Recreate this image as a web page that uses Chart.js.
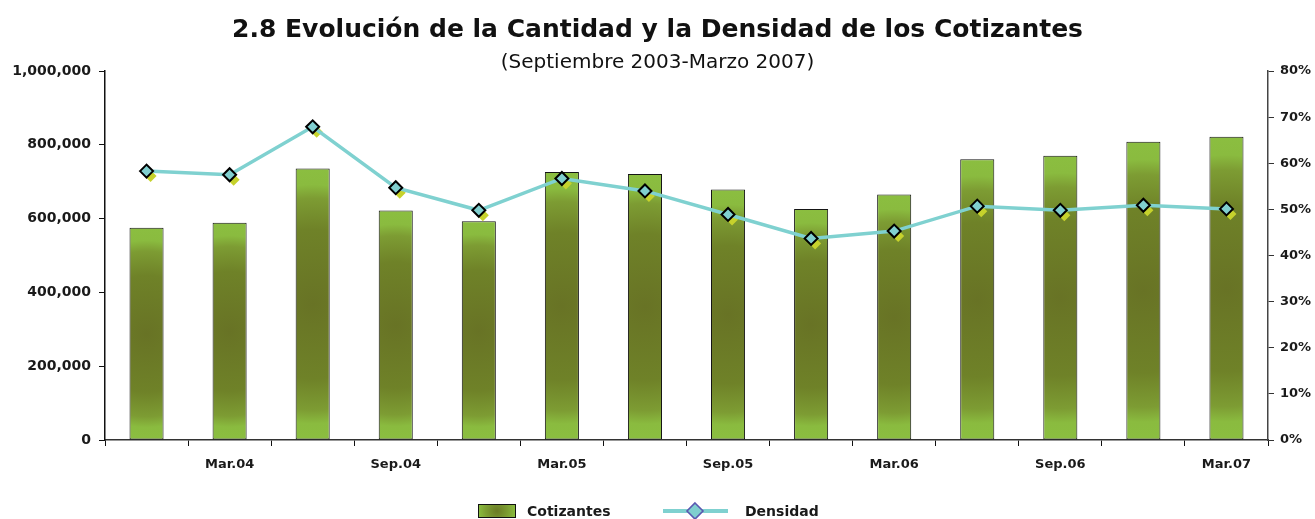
<!DOCTYPE html>
<html>
<head>
<meta charset="utf-8">
<script src="https://cdn.jsdelivr.net/npm/chart.js@4.4.0/dist/chart.umd.min.js"></script>
<style>
  html, body { margin: 0; padding: 0; background: #fff; }
  #wrap { position: relative; width: 1315px; height: 519px; overflow: hidden; }
  #c { position: absolute; left: 0; top: 0; }
  .lg { position: absolute; font-family: "DejaVu Sans", sans-serif; font-weight: bold; font-size: 14px; line-height: 14px; color: #1a1a1a; white-space: nowrap; }
  .sym { position: absolute; }
</style>
</head>
<body>
<div id="wrap">
  <canvas id="c" width="1315" height="519"></canvas>
  <canvas id="symC" class="sym" width="40" height="16" style="left:477px;top:503px"></canvas>
  <span class="lg" style="left:527px;top:504px">Cotizantes</span>
  <canvas id="symD" class="sym" width="70" height="20" style="left:660px;top:501px"></canvas>
  <span class="lg" style="left:745px;top:504px">Densidad</span>
</div>
<script>
// ---- data ----
const categories = ['Dic.03','Mar.04','Jun.04','Sep.04','Dic.04','Mar.05','Jun.05','Sep.05','Dic.05','Mar.06','Jun.06','Sep.06','Dic.06','Mar.07'];
const cotizantes = [575000, 589000, 736000, 622000, 593000, 726000, 721000, 679000, 626000, 665000, 761000, 770000, 808000, 822000];
const densidad = [58.3, 57.5, 67.9, 54.7, 49.8, 56.7, 54.0, 48.9, 43.7, 45.3, 50.7, 49.8, 50.9, 50.1];
const titleText = '2.8 Evolución de la Cantidad y la Densidad de los Cotizantes';
const subtitleText = '(Septiembre 2003-Marzo 2007)';
const seriesNames = ['Cotizantes', 'Densidad'];

const FONT = '"DejaVu Sans", sans-serif';

function barGradient(ctx2d, x, top, base) {
  const cy = (top + base) / 2;
  const r = Math.max((base - top) / 2, 1);
  const g = ctx2d.createRadialGradient(x, cy, 0, x, cy, r);
  g.addColorStop(0, '#687325');
  g.addColorStop(0.55, '#6f8228');
  g.addColorStop(0.78, '#7d9c33');
  g.addColorStop(0.88, '#8abb3f');
  g.addColorStop(1, '#8bbe40');
  return g;
}

// legend symbols
(function () {
  const c = document.getElementById('symC').getContext('2d');
  const g = c.createRadialGradient(20, 8, 0, 20, 8, 19);
  g.addColorStop(0, '#6a7a25'); g.addColorStop(0.6, '#7d9f33'); g.addColorStop(1, '#8bbe40');
  c.fillStyle = g; c.fillRect(1, 1, 38, 14);
  c.strokeStyle = '#111'; c.lineWidth = 1; c.strokeRect(1.5, 1.5, 37, 13);
  const d = document.getElementById('symD').getContext('2d');
  d.strokeStyle = '#7fd1d0'; d.lineWidth = 4;
  d.beginPath(); d.moveTo(3, 10); d.lineTo(68, 10); d.stroke();
  d.fillStyle = '#7fcfcf'; d.strokeStyle = '#5a58b0'; d.lineWidth = 1.6;
  d.beginPath(); d.moveTo(35, 2); d.lineTo(43, 10); d.lineTo(35, 18); d.lineTo(27, 10); d.closePath();
  d.fill(); d.stroke();
})();

const markerShadow = {
  id: 'markerShadow',
  beforeDatasetDraw(chart, args) {
    if (args.index !== 1) return;
    const ctx = chart.ctx;
    ctx.save();
    ctx.fillStyle = '#c6d22c';
    args.meta.data.forEach(p => {
      const r = 6, x = p.x + 4, y = p.y + 5;
      ctx.beginPath();
      ctx.moveTo(x, y - r); ctx.lineTo(x + r, y); ctx.lineTo(x, y + r); ctx.lineTo(x - r, y);
      ctx.closePath(); ctx.fill();
    });
    ctx.restore();
  }
};

new Chart(document.getElementById('c'), {
  data: {
    labels: categories,
    datasets: [
      {
        type: 'bar',
        label: seriesNames[0],
        data: cotizantes,
        yAxisID: 'y',
        order: 2,
        barPercentage: 0.41,
        categoryPercentage: 1.0,
        borderColor: '#151515',
        borderWidth: 1,
        borderSkipped: false,
        backgroundColor: (context) => {
          const chart = context.chart;
          const s = chart.scales;
          if (context.type !== 'data' || !s.x || !s.y) return '#8bbe40';
          const x = s.x.getPixelForValue(context.dataIndex);
          const top = s.y.getPixelForValue(context.raw);
          const base = s.y.getPixelForValue(0);
          if (![x, top, base].every(Number.isFinite)) return '#8bbe40';
          return barGradient(chart.ctx, x, top, base);
        }
      },
      {
        type: 'line',
        label: seriesNames[1],
        data: densidad,
        yAxisID: 'y1',
        order: 1,
        borderColor: '#7fd1d0',
        borderWidth: 3.5,
        tension: 0,
        pointStyle: 'rectRot',
        pointRadius: 6.5,
        pointBackgroundColor: '#80cfcf',
        pointBorderColor: '#000',
        pointBorderWidth: 2
      }
    ]
  },
  options: {
    responsive: false,
    animation: false,
    layout: { padding: { left: 0, right: 0, top: 8, bottom: 47 } },
    plugins: {
      legend: { display: false },
      tooltip: { enabled: false },
      title: {
        display: true,
        text: titleText,
        color: '#111',
        font: { family: FONT, size: 25, weight: 'bold' },
        padding: { top: 7, bottom: 0 }
      },
      subtitle: {
        display: true,
        text: subtitleText,
        color: '#111',
        font: { family: FONT, size: 20, weight: 'normal' },
        padding: { top: 6, bottom: -4 }
      }
    },
    scales: {
      x: {
        type: 'category',
        offset: true,
        grid: { offset: true, drawOnChartArea: false, drawTicks: true, tickLength: 6, color: '#111', lineWidth: 1 },
        border: { display: true, color: '#333', width: 1.5 },
        ticks: {
          autoSkip: false, maxRotation: 0, minRotation: 0, padding: 11,
          color: '#1a1a1a', font: { family: FONT, size: 13, weight: 'bold' },
          callback: function (v, i) { return i % 2 === 1 ? this.getLabelForValue(v) : ''; }
        },
        afterFit: (s) => { s.height = 32; }
      },
      y: {
        position: 'left',
        min: 0, max: 1000000,
        grid: { drawOnChartArea: false, drawTicks: true, tickLength: 6, color: '#111' },
        border: { display: true, color: '#111', width: 1.5 },
        ticks: {
          stepSize: 200000, padding: 8, color: '#1a1a1a',
          font: { family: FONT, size: 14, weight: 'bold' },
          callback: (v) => v.toLocaleString('en-US')
        },
        afterFit: (s) => { s.width = 105; }
      },
      y1: {
        position: 'right',
        min: 0, max: 80,
        grid: { drawOnChartArea: false, drawTicks: true, tickLength: 6, color: '#333' },
        border: { display: true, color: '#444', width: 1.5 },
        ticks: {
          stepSize: 10, padding: 6, color: '#1a1a1a',
          font: { family: FONT, size: 13, weight: 'bold' },
          callback: (v) => v + '%'
        },
        afterFit: (s) => { s.width = 47; }
      }
    }
  },
  plugins: [markerShadow]
});
</script>
</body>
</html>
